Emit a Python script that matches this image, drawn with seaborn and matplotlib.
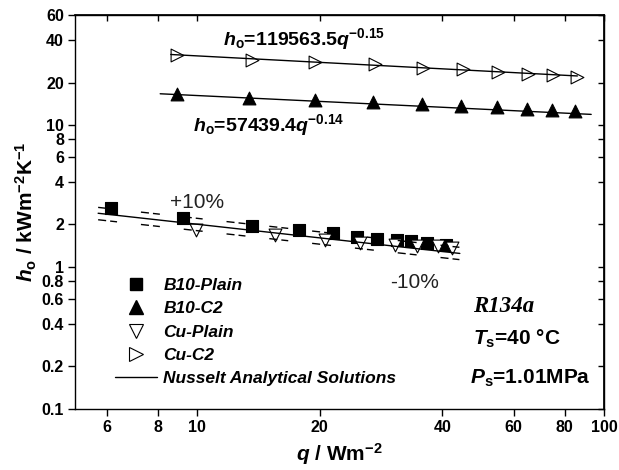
import matplotlib
matplotlib.use("Agg")
import matplotlib.pyplot as plt
from matplotlib.lines import Line2D
from matplotlib.ticker import FixedLocator, FixedFormatter, NullLocator
import seaborn as sns

# ---------------- data ----------------
q_b10_plain = [6.12, 9.24, 13.6, 17.8, 21.6, 24.7, 27.7, 31.0, 33.5, 36.8, 40.8]
h_b10_plain = [2.60, 2.21, 1.94, 1.84, 1.74, 1.64, 1.58, 1.55, 1.52, 1.48, 1.44]

q_b10_c2 = [8.9, 13.4, 19.5, 27.0, 35.6, 44.4, 54.7, 64.7, 74.6, 84.9]
h_b10_c2 = [16.6, 15.7, 15.2, 14.5, 14.1, 13.6, 13.4, 13.0, 12.8, 12.6]

q_cu_plain = [9.9, 15.5, 20.6, 25.1, 30.6, 34.6, 39.0, 42.4]
h_cu_plain = [1.83, 1.68, 1.55, 1.48, 1.44, 1.41, 1.41, 1.37]

q_cu_c2 = [8.9, 13.6, 19.5, 27.3, 35.8, 44.9, 55.0, 65.1, 75.0, 85.9]
h_cu_c2 = [31.5, 28.7, 27.9, 27.2, 25.4, 24.8, 23.9, 23.2, 22.6, 22.1]

# fitted / analytical lines (end points)
q_fit_cu_c2 = [8.6, 86.0]
h_fit_cu_c2 = [31.6, 22.3]
q_fit_b10_c2 = [8.1, 93.0]
h_fit_b10_c2 = [16.7, 11.95]
q_nusselt = [5.7, 44.2]
h_nusselt = [2.40, 1.25]
h_nusselt_plus10 = [2.64, 1.38]
h_nusselt_minus10 = [2.16, 1.13]

x_ticks = [6, 8, 10, 20, 40, 60, 80, 100]
x_tick_labels = ["6", "8", "10", "20", "40", "60", "80", "100"]
y_ticks = [0.1, 0.2, 0.4, 0.6, 0.8, 1, 2, 4, 6, 8, 10, 20, 40, 60]
y_tick_labels = ["0.1", "0.2", "0.4", "0.6", "0.8", "1", "2", "4", "6", "8",
                 "10", "20", "40", "60"]

legend_labels = ["B10-Plain", "B10-C2", "Cu-Plain", "Cu-C2",
                 "Nusselt Analytical Solutions"]

# ---------------- style ----------------
sns.set_theme(style="ticks")
plt.rcParams["font.family"] = ["Liberation Sans", "DejaVu Sans"]
plt.rcParams["mathtext.fontset"] = "custom"
plt.rcParams["mathtext.rm"] = "Liberation Sans"
plt.rcParams["mathtext.it"] = "Liberation Sans:italic"
plt.rcParams["mathtext.bf"] = "Liberation Sans:bold"
plt.rcParams["mathtext.bfit"] = "Liberation Sans:bold:italic"
for k in ["text.color", "axes.labelcolor", "xtick.color", "ytick.color",
          "axes.edgecolor"]:
    plt.rcParams[k] = "black"

W, H = 619, 470
fig = plt.figure(figsize=(W / 100, H / 100), dpi=100)
L, R, T, B = 75, 604, 15, 409
ax = fig.add_axes([L / W, 1 - B / H, (R - L) / W, (B - T) / H])

mk = dict(ax=ax, legend=False, zorder=3, linewidth=0.8, edgecolor="black")
sns.scatterplot(x=q_b10_plain, y=h_b10_plain, marker="s", s=72, color="black", **mk)
sns.scatterplot(x=q_b10_c2, y=h_b10_c2, marker="^", s=85, color="black", **mk)
sns.scatterplot(x=q_cu_plain, y=h_cu_plain, marker="v", s=85, color="white", **mk)
sns.scatterplot(x=q_cu_c2, y=h_cu_c2, marker=">", s=85, color="white", **mk)

ln = dict(ax=ax, color="black", linewidth=1.0, zorder=4, legend=False)
sns.lineplot(x=q_fit_cu_c2, y=h_fit_cu_c2, **ln)
sns.lineplot(x=q_fit_b10_c2, y=h_fit_b10_c2, **ln)
sns.lineplot(x=q_nusselt, y=h_nusselt, **ln)
dash = (0, (5.8, 2.9, 5.0, 17.3))
sns.lineplot(x=q_nusselt, y=h_nusselt_plus10, linestyle=dash, **ln)
sns.lineplot(x=q_nusselt, y=h_nusselt_minus10, linestyle=dash, **ln)

ax.set_xscale("log")
ax.set_yscale("log")
ax.set_xlim(5, 100)
ax.set_ylim(0.1, 60)

ax.xaxis.set_major_locator(FixedLocator(x_ticks))
ax.xaxis.set_major_formatter(FixedFormatter(x_tick_labels))
ax.xaxis.set_minor_locator(NullLocator())
ax.yaxis.set_major_locator(FixedLocator(y_ticks))
ax.yaxis.set_major_formatter(FixedFormatter(y_tick_labels))
ax.yaxis.set_minor_locator(NullLocator())

ax.tick_params(axis="both", which="major", direction="out", length=5, width=1,
               color="black", labelcolor="black", labelsize=11.5, pad=3)
for lab in ax.get_xticklabels() + ax.get_yticklabels():
    lab.set_fontweight("bold")
for sp in ax.spines.values():
    sp.set_visible(True)
    sp.set_linewidth(1.0)
    sp.set_color("black")

# inward ticks on top / right
secx = ax.secondary_xaxis("top")
secx.set_xticks(x_ticks)
secx.xaxis.set_minor_locator(NullLocator())
secx.tick_params(direction="in", length=4, width=1, labeltop=False)
secy = ax.secondary_yaxis("right")
secy.set_yticks(y_ticks)
secy.yaxis.set_minor_locator(NullLocator())
secy.tick_params(direction="in", length=4, width=1, labelright=False)

ax.set_xlabel(r"$\mathbfit{q}$ / Wm$^{\mathbf{-2}}$", fontsize=15,
              fontweight="bold", labelpad=4)
ax.set_ylabel(r"$\mathbfit{h}_{\mathbf{o}}$ / kWm$^{\mathbf{-2}}$K$^{\mathbf{-1}}$",
              fontsize=15, fontweight="bold", labelpad=2)

def ptext(x, y, s, **kw):
    fig.text(x / W, 1 - y / H, s, va="baseline", ha="left", **kw)

ptext(223, 45, r"$\mathbfit{h}_{\mathbf{o}}$=119563.5$\mathbfit{q}^{\mathbf{-0.15}}$",
      fontsize=14, fontweight="bold")
ptext(193, 131, r"$\mathbfit{h}_{\mathbf{o}}$=57439.4$\mathbfit{q}^{\mathbf{-0.14}}$",
      fontsize=14, fontweight="bold")
ptext(170, 208, "+10%", fontsize=15, color="#222222")
ptext(390, 288, "-10%", fontsize=15, color="#222222")
ptext(473, 312, "R134a", fontsize=16.5, family=["Liberation Serif"],
      style="italic", fontweight="bold")
ptext(473, 345, r"$\mathbfit{T}_{\mathbf{s}}$=40 °C", fontsize=15, fontweight="bold")
ptext(470, 384, r"$\mathbfit{P}_{\mathbf{s}}$=1.01MPa", fontsize=15, fontweight="bold")

handles = [
    Line2D([], [], marker="s", ls="none", color="black", markersize=8.5),
    Line2D([], [], marker="^", ls="none", color="black", markersize=9.5),
    Line2D([], [], marker="v", ls="none", markerfacecolor="white",
           markeredgecolor="black", markersize=9.5, markeredgewidth=0.8),
    Line2D([], [], marker=">", ls="none", markerfacecolor="white",
           markeredgecolor="black", markersize=9.5, markeredgewidth=0.8),
    Line2D([], [], color="black", lw=1.0),
]
ax.legend(handles, legend_labels, loc="upper left",
          bbox_to_anchor=((115 - L) / (R - L), (B - 278) / (B - T)),
          frameon=False, borderpad=0, borderaxespad=0, handlelength=2.4,
          handletextpad=0.38, labelspacing=0.47, numpoints=1,
          prop={"family": "Liberation Sans", "weight": "bold",
                "style": "italic", "size": 12.5})

fig.savefig("out.png", dpi=100)
